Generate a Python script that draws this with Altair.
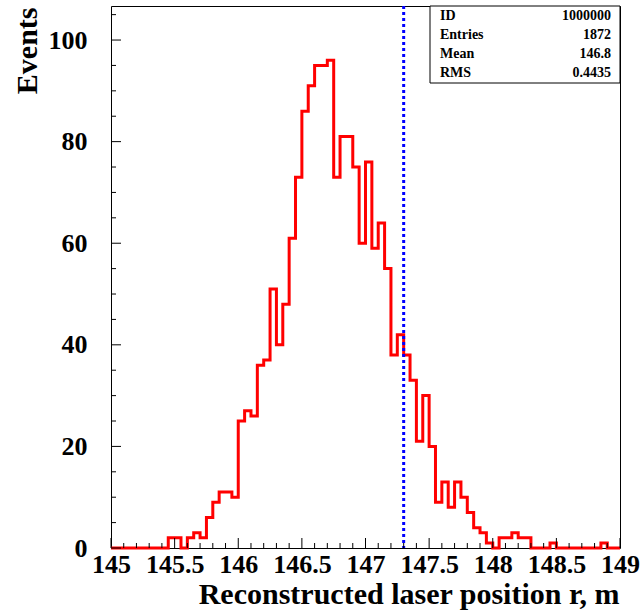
import altair as alt
import pandas as pd

# ---------------- data ----------------
x_min = 145.0
bin_width = 0.05
counts = [
    0, 0, 0, 0, 0, 0, 0, 0, 0,            # 145.00 - 145.40
    2, 2, 0, 2, 3, 2, 6, 9, 11, 11, 10,    # 145.45 - 145.95
    25, 27, 26, 36, 37, 51, 40, 48, 61, 73,  # 146.00 - 146.45
    86, 91, 95, 95, 96, 73, 81, 81, 75, 60,  # 146.50 - 146.95
    76, 59, 64, 55, 38, 42, 38, 33, 21, 30,  # 147.00 - 147.45
    20, 9, 13, 8, 13, 10, 7, 4, 3, 1,        # 147.50 - 147.95
    0, 2, 2, 3, 2, 2, 0, 0, 0, 1,            # 148.00 - 148.45
    0, 0, 0, 0, 0, 0, 0, 1, 0, 0,            # 148.50 - 148.95
]
marker_x = [147.3]
stat_names = ["ID", "Entries", "Mean", "RMS"]
stat_values = ["1000000", "1872", "146.8", "0.4435"]
x_label_values = [145, 145.5, 146, 146.5, 147, 147.5, 148, 148.5, 149]
x_minor_ticks = [145.1, 145.2, 145.3, 145.4, 145.6, 145.7, 145.8, 145.9,
                 146.1, 146.2, 146.3, 146.4, 146.6, 146.7, 146.8, 146.9,
                 147.1, 147.2, 147.3, 147.4, 147.6, 147.7, 147.8, 147.9,
                 148.1, 148.2, 148.3, 148.4, 148.6, 148.7, 148.8, 148.9]
y_label_values = [0, 20, 40, 60, 80, 100]
y_minor_ticks = [5, 10, 15, 25, 30, 35, 45, 50, 55, 65, 70, 75, 85, 90, 95, 105]

# ---------------- tables ----------------
edges = [round(x_min + bin_width * i, 2) for i in range(len(counts) + 1)]
hist_df = pd.DataFrame({"x": edges, "y": counts + [counts[-1]]})
marker_df = pd.DataFrame({"x": marker_x})
stats_df = pd.DataFrame({"name": stat_names, "value": stat_values,
                         "row": list(range(len(stat_names)))})
xmaj_df = pd.DataFrame({"x": x_label_values})
xmin_df = pd.DataFrame({"x": x_minor_ticks})
ymaj_df = pd.DataFrame({"y": y_label_values})
ymin_df = pd.DataFrame({"y": y_minor_ticks})
box_df = pd.DataFrame({"a": [0]})

W, H = 509, 542
FONT = "Liberation Serif"

xscale = alt.Scale(domain=[145, 149], nice=False, zero=False)
yscale = alt.Scale(domain=[0, 106.7], nice=False, zero=True)

xaxis = alt.Axis(values=x_label_values, format="~g", ticks=False, tickSize=0,
                 domain=False, grid=False, labelFont=FONT, labelFontWeight="bold",
                 labelFontSize=26, labelColor="black", labelPadding=3,
                 labelFlush=False, labelOverlap=False,
                 title="Reconstructed laser position r, m", titleFont=FONT,
                 titleFontWeight="bold", titleFontSize=30, titleColor="black",
                 titleAlign="right", titleBaseline="alphabetic",
                 titleX=508, titleY=55, titleAngle=0)
yaxis = alt.Axis(values=y_label_values, ticks=False, tickSize=0, domain=False,
                 grid=False, labelFont=FONT, labelFontWeight="bold",
                 labelFontSize=26, labelColor="black", labelPadding=24,
                 labelFlush=False, labelOverlap=False,
                 title="Events", titleFont=FONT, titleFontWeight="bold",
                 titleFontSize=30, titleColor="black", titleAngle=270,
                 titleAlign="right", titleBaseline="alphabetic",
                 titleX=-75, titleY=1)

X = lambda: alt.X("x:Q", scale=xscale, axis=xaxis)
Y = lambda: alt.Y("y:Q", scale=yscale, axis=yaxis)

hist = alt.Chart(hist_df).mark_line(
    interpolate="step-after", color="#ff0000", strokeWidth=3
).encode(x=X(), y=Y())

marker = alt.Chart(marker_df).mark_rule(
    color="#0000ff", strokeDash=[3, 3], strokeWidth=3
).encode(x=X())

xmaj = alt.Chart(xmaj_df).mark_rule(color="black", strokeWidth=1).encode(
    x=X(), y=alt.value(H), y2=alt.value(H - 10))
xmin = alt.Chart(xmin_df).mark_rule(color="black", strokeWidth=1).encode(
    x=X(), y=alt.value(H), y2=alt.value(H - 5))
ymaj = alt.Chart(ymaj_df).mark_rule(color="black", strokeWidth=1).encode(
    y=Y(), x=alt.value(0), x2=alt.value(10))
ymin = alt.Chart(ymin_df).mark_rule(color="black", strokeWidth=1).encode(
    y=Y(), x=alt.value(0), x2=alt.value(5))

box = alt.Chart(box_df).mark_rect(
    fill="white", stroke="black", strokeWidth=1
).encode(x=alt.value(319), x2=alt.value(509), y=alt.value(0), y2=alt.value(77))

names = alt.Chart(stats_df).transform_calculate(
    py="9.5 + datum.row * 19"
).mark_text(font=FONT, fontWeight="bold", fontSize=14, align="left",
            baseline="middle", color="black").encode(
    x=alt.value(329), y=alt.Y("py:Q", scale=None), text="name:N")
vals = alt.Chart(stats_df).transform_calculate(
    py="9.5 + datum.row * 19"
).mark_text(font=FONT, fontWeight="bold", fontSize=14, align="right",
            baseline="middle", color="black").encode(
    x=alt.value(500), y=alt.Y("py:Q", scale=None), text="value:N")

chart = alt.layer(hist, marker, box, names, vals, xmaj, xmin, ymaj, ymin).properties(
    width=W, height=H,
    autosize=alt.AutoSizeParams(type="none"),
    padding={"left": 111, "top": 6, "right": 24, "bottom": 65},
    background="white",
).configure_view(stroke="black", strokeWidth=1)

chart.save("out.html", embed_options={"renderer": "svg", "actions": False})
